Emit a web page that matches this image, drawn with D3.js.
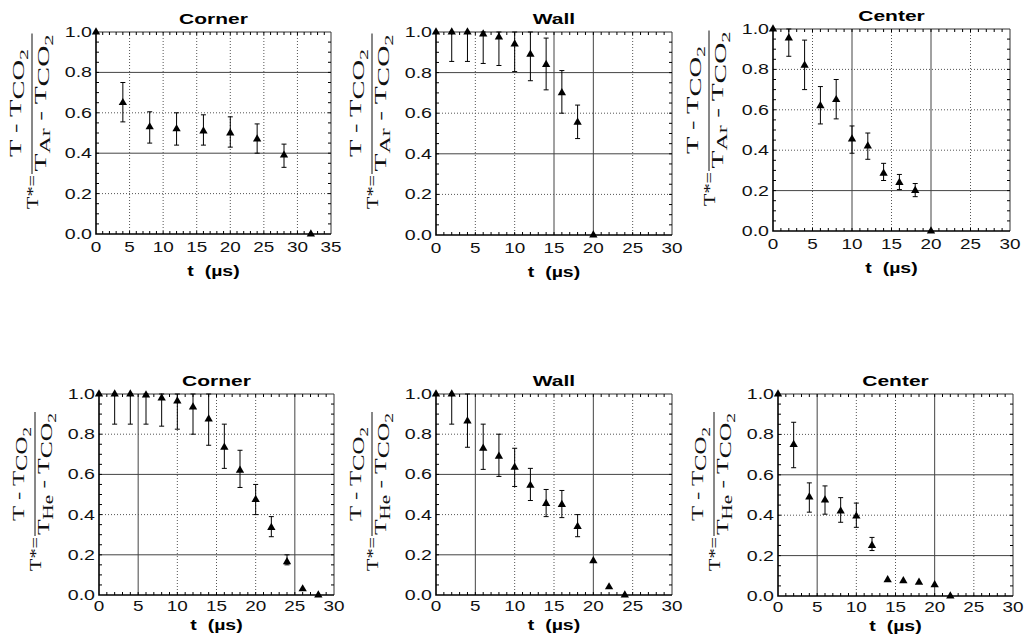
<!DOCTYPE html>
<html>
<head>
<meta charset="utf-8">
<script src="https://cdn.jsdelivr.net/npm/d3@7"></script>
<style>
  body { margin: 0; background: #fff; }
  svg { display: block; }
</style>
</head>
<body>
<div id="chart"></div>
<script>

// ---- data (T* vs t in microseconds) ----
// Ar, corner
const arCornerT  = [0, 4, 8, 12, 16, 20, 24, 28, 32]
const arCornerY  = [1.0, 0.65, 0.53, 0.52, 0.51, 0.50, 0.47, 0.39, 0.0]
const arCornerHi = [null, 0.75, 0.605, 0.60, 0.59, 0.58, 0.545, 0.445, null]
const arCornerLo = [null, 0.555, 0.45, 0.44, 0.44, 0.43, 0.40, 0.33, null]

// Ar, wall
const arWallT  = [0, 2, 4, 6, 8, 10, 12, 14, 16, 18, 20]
const arWallY  = [1.0, 1.0, 1.0, 0.99, 0.975, 0.94, 0.89, 0.84, 0.70, 0.555, 0.0]
const arWallHi = [null, 1.0, 1.0, 1.0, 1.0, 1.0, 1.0, 0.97, 0.81, 0.64, null]
const arWallLo = [null, 0.855, 0.855, 0.845, 0.835, 0.805, 0.76, 0.715, 0.60, 0.475, null]

// Ar, center
const arCenterT  = [0, 2, 4, 6, 8, 10, 12, 14, 16, 18, 20]
const arCenterY  = [1.0, 0.955, 0.82, 0.62, 0.65, 0.455, 0.42, 0.285, 0.24, 0.20, 0.0]
const arCenterHi = [null, 1.0, 0.945, 0.715, 0.75, 0.52, 0.485, 0.335, 0.28, 0.235, null]
const arCenterLo = [null, 0.865, 0.70, 0.53, 0.555, 0.385, 0.355, 0.25, 0.205, 0.17, null]

// He, corner
const heCornerT  = [0, 2, 4, 6, 8, 10, 12, 14, 16, 18, 20, 22, 24, 26, 28]
const heCornerY  = [1.0, 1.0, 1.0, 0.995, 0.98, 0.965, 0.935, 0.875, 0.735, 0.62, 0.475, 0.335, 0.165, 0.03, 0.0]
const heCornerHi = [null, 1.0, 1.0, 1.0, 1.0, 1.0, 1.0, 1.0, 0.85, 0.72, 0.55, 0.39, 0.20, null, null]
const heCornerLo = [null, 0.85, 0.85, 0.85, 0.84, 0.825, 0.80, 0.745, 0.63, 0.535, 0.40, 0.29, 0.15, null, null]

// He, wall
const heWallT  = [0, 2, 4, 6, 8, 10, 12, 14, 16, 18, 20, 22, 24]
const heWallY  = [1.0, 1.0, 0.865, 0.73, 0.69, 0.635, 0.545, 0.455, 0.45, 0.34, 0.17, 0.04, 0.0]
const heWallHi = [null, 1.0, 1.0, 0.85, 0.80, 0.73, 0.63, 0.525, 0.52, 0.40, null, null, null]
const heWallLo = [null, 0.85, 0.735, 0.625, 0.59, 0.54, 0.47, 0.39, 0.385, 0.29, null, null, null]

// He, center
const heCenterT  = [0, 2, 4, 6, 8, 10, 12, 14, 16, 18, 20, 22]
const heCenterY  = [1.0, 0.75, 0.49, 0.475, 0.42, 0.395, 0.25, 0.08, 0.075, 0.068, 0.055, 0.0]
const heCenterHi = [null, 0.86, 0.56, 0.545, 0.487, 0.46, 0.29, null, null, null, null, null]
const heCenterLo = [null, 0.635, 0.415, 0.405, 0.365, 0.34, 0.225, null, null, null, null, null]

const yTicks = [0, 0.2, 0.4, 0.6, 0.8, 1.0]
const xTicks30 = [0, 5, 10, 15, 20, 25, 30]
const xTicks35 = [0, 5, 10, 15, 20, 25, 30, 35]

// ---- layout ----
const width = 1024, height = 638

// solidX / solidY: grid lines that print as solid rather than dotted in the scan
const panels = [
	{title: 'Corner', gas: 'Ar', t: arCornerT, y: arCornerY, hi: arCornerHi, lo: arCornerLo, xTicks: xTicks35,
		box: {l: 96, r: 331, t: 32, b: 234}, row: 0, solidX: [], solidY: [0.8, 0.4]},
	{title: 'Wall', gas: 'Ar', t: arWallT, y: arWallY, hi: arWallHi, lo: arWallLo, xTicks: xTicks30,
		box: {l: 436, r: 672, t: 32, b: 235}, row: 0, solidX: [15, 20], solidY: [0.8, 0.4]},
	{title: 'Center', gas: 'Ar', t: arCenterT, y: arCenterY, hi: arCenterHi, lo: arCenterLo, xTicks: xTicks30,
		box: {l: 773, r: 1010, t: 29, b: 231}, row: 0, solidX: [10, 20], solidY: [0.2]},
	{title: 'Corner', gas: 'He', t: heCornerT, y: heCornerY, hi: heCornerHi, lo: heCornerLo, xTicks: xTicks30,
		box: {l: 99, r: 334, t: 394, b: 595}, row: 1, solidX: [5, 25], solidY: [0.6, 0.2]},
	{title: 'Wall', gas: 'He', t: heWallT, y: heWallY, hi: heWallHi, lo: heWallLo, xTicks: xTicks30,
		box: {l: 436, r: 672, t: 394, b: 595}, row: 1, solidX: [5, 20], solidY: [0.6, 0.2]},
	{title: 'Center', gas: 'He', t: heCenterT, y: heCenterY, hi: heCenterHi, lo: heCenterLo, xTicks: xTicks30,
		box: {l: 778, r: 1013, t: 394, b: 596}, row: 1, solidX: [5, 20], solidY: [0.6, 0.2]}
]

const sans = "'Liberation Sans', Arial, Helvetica, sans-serif"
const serif = "'Liberation Serif', 'Times New Roman', serif"

const svg = d3.select('#chart').append('svg')
	.attr('width', width)
	.attr('height', height)

// text that is stretched sideways, like the wide faces of the original print
const wideText = function(parent, x, y, str, sx){
	return parent.append('text')
		.attr('transform', `translate(${x},${y}) scale(${sx},1)`)
		.text(str)
}

const drawPanel = function(p){
	const b = p.box
	const xMax = p.xTicks[p.xTicks.length - 1]
	const x = d3.scaleLinear().domain([0, xMax]).range([b.l, b.r])
	const y = d3.scaleLinear().domain([0, 1]).range([b.b, b.t])
	const g = svg.append('g').attr('class', 'panel')

	// grid, dotted except the few lines that came out solid
	g.selectAll('.vgrid')
		.data(p.xTicks.slice(1, -1))
		.enter().append('line')
			.attr('x1', d => x(d)).attr('x2', d => x(d))
			.attr('y1', b.t).attr('y2', b.b)
			.attr('stroke', d => p.solidX.includes(d) ? '#444' : '#555')
			.attr('stroke-width', 1)
			.attr('stroke-dasharray', d => p.solidX.includes(d) ? null : '1,2')
	g.selectAll('.hgrid')
		.data(yTicks.slice(1, -1))
		.enter().append('line')
			.attr('x1', b.l).attr('x2', b.r)
			.attr('y1', d => y(d)).attr('y2', d => y(d))
			.attr('stroke', d => p.solidY.includes(d) ? '#444' : '#555')
			.attr('stroke-width', 1)
			.attr('stroke-dasharray', d => p.solidY.includes(d) ? null : '1,2')

	// frame
	g.append('path')
		.attr('d', `M${b.l},${b.t} H${b.r} V${b.b}`)
		.attr('fill', 'none')
		.attr('stroke', '#333')
		.attr('stroke-width', 1)
	g.append('path')
		.attr('d', `M${b.l},${b.t} V${b.b} H${b.r}`)
		.attr('fill', 'none')
		.attr('stroke', '#000')
		.attr('stroke-width', 1.6)

	// minor ticks, pointing inward on all four sides
	const xMinor = d3.range(1, xMax)
	const yMinor = d3.range(1, 20).map(i => i * 0.05)
	g.selectAll('.xminor')
		.data(xMinor)
		.enter().append('path')
			.attr('d', d => `M${x(d)},${b.b} v-3 M${x(d)},${b.t} v3`)
			.attr('stroke', '#000')
			.attr('stroke-width', 1)
	g.selectAll('.yminor')
		.data(yMinor)
		.enter().append('path')
			.attr('d', d => `M${b.l},${y(d)} h3 M${b.r},${y(d)} h-3`)
			.attr('stroke', '#000')
			.attr('stroke-width', 1)

	// tick labels
	const tl = g.append('g')
		.style('font-family', sans)
		.style('font-size', '14px')
		.attr('fill', '#111')
	p.xTicks.forEach(d => {
		wideText(tl, x(d), b.b + (p.row === 0 ? 18 : 16), d, 1.35).attr('text-anchor', 'middle')
	})
	yTicks.forEach(d => {
		wideText(tl, b.l - 4, y(d) + 5, d.toFixed(1), 1.4).attr('text-anchor', 'end')
	})

	// title and x label
	wideText(g, (b.l + b.r) / 2, b.t - 8, p.title, 1.4)
		.attr('text-anchor', 'middle')
		.style('font-family', sans)
		.style('font-weight', 'bold')
		.style('font-size', '15px')
	wideText(g, (b.l + b.r) / 2, b.b + (p.row === 0 ? 42 : 35), 't\u00a0\u00a0(\u00b5s)', 1.3)
		.attr('text-anchor', 'middle')
		.style('font-family', sans)
		.style('font-weight', 'bold')
		.style('font-size', '15px')

	// y label: T* = (T - TCO2) / (Tgas - TCO2), rotated
	const lab = g.append('g')
		.attr('transform', `translate(${b.l - 64},${b.t + 142}) rotate(-90)`)
		.style('font-family', serif)
		.style('font-size', '17px')
		.attr('fill', '#111')
	const numLen = p.row === 0 ? 108 : 94
	const denLen = p.row === 0 ? 137 : 122
	const denMid = p.row === 0 ? 71 : 62
	lab.append('line')
		.attr('x1', 0).attr('x2', denMid + denLen / 2 + 1)
		.attr('y1', 0).attr('y2', 0)
		.attr('stroke', '#111')
		.attr('stroke-width', 1)
	lab.append('text')
		.attr('x', -1).attr('y', 6)
		.attr('text-anchor', 'end')
		.attr('textLength', 34)
		.attr('lengthAdjust', 'spacingAndGlyphs')
		.text('T*=')
	const num = lab.append('text')
		.attr('x', denMid).attr('y', -11)
		.attr('text-anchor', 'middle')
		.attr('textLength', numLen)
		.attr('lengthAdjust', 'spacingAndGlyphs')
	num.append('tspan').text('T - T')
	num.append('tspan').attr('dy', 3).text('CO')
	num.append('tspan').attr('dy', 4).style('font-size', '13px').text('2')
	const den = lab.append('text')
		.attr('x', denMid).attr('y', 14)
		.attr('text-anchor', 'middle')
		.attr('textLength', denLen)
		.attr('lengthAdjust', 'spacingAndGlyphs')
	den.append('tspan').text('T')
	den.append('tspan').attr('dy', 4).style('font-size', '14px').text(p.gas)
	den.append('tspan').attr('dy', -4).text(' - T')
	den.append('tspan').attr('dy', 3).text('CO')
	den.append('tspan').attr('dy', 4).style('font-size', '13px').text('2')

	// data
	const pts = p.t.map((t, i) => ({t: t, v: p.y[i], hi: p.hi[i], lo: p.lo[i]}))
	const bars = pts.filter(d => d.hi !== null)
	g.selectAll('.err')
		.data(bars)
		.enter().append('path')
			.attr('d', d => `M${x(d.t)},${y(d.hi)} V${y(d.lo)}`
				+ ` M${x(d.t) - 2.5},${y(d.hi)} h5 M${x(d.t) - 2.5},${y(d.lo)} h5`)
			.attr('stroke', '#000')
			.attr('stroke-width', 1)
			.attr('fill', 'none')
	g.selectAll('.pt')
		.data(pts)
		.enter().append('path')
			.attr('d', d3.symbol().type(d3.symbolTriangle).size(30))
			.attr('transform', d => `translate(${x(d.t)},${y(d.v)})`)
			.attr('fill', '#000')
}

panels.forEach(drawPanel)

</script>
</body>
</html>
